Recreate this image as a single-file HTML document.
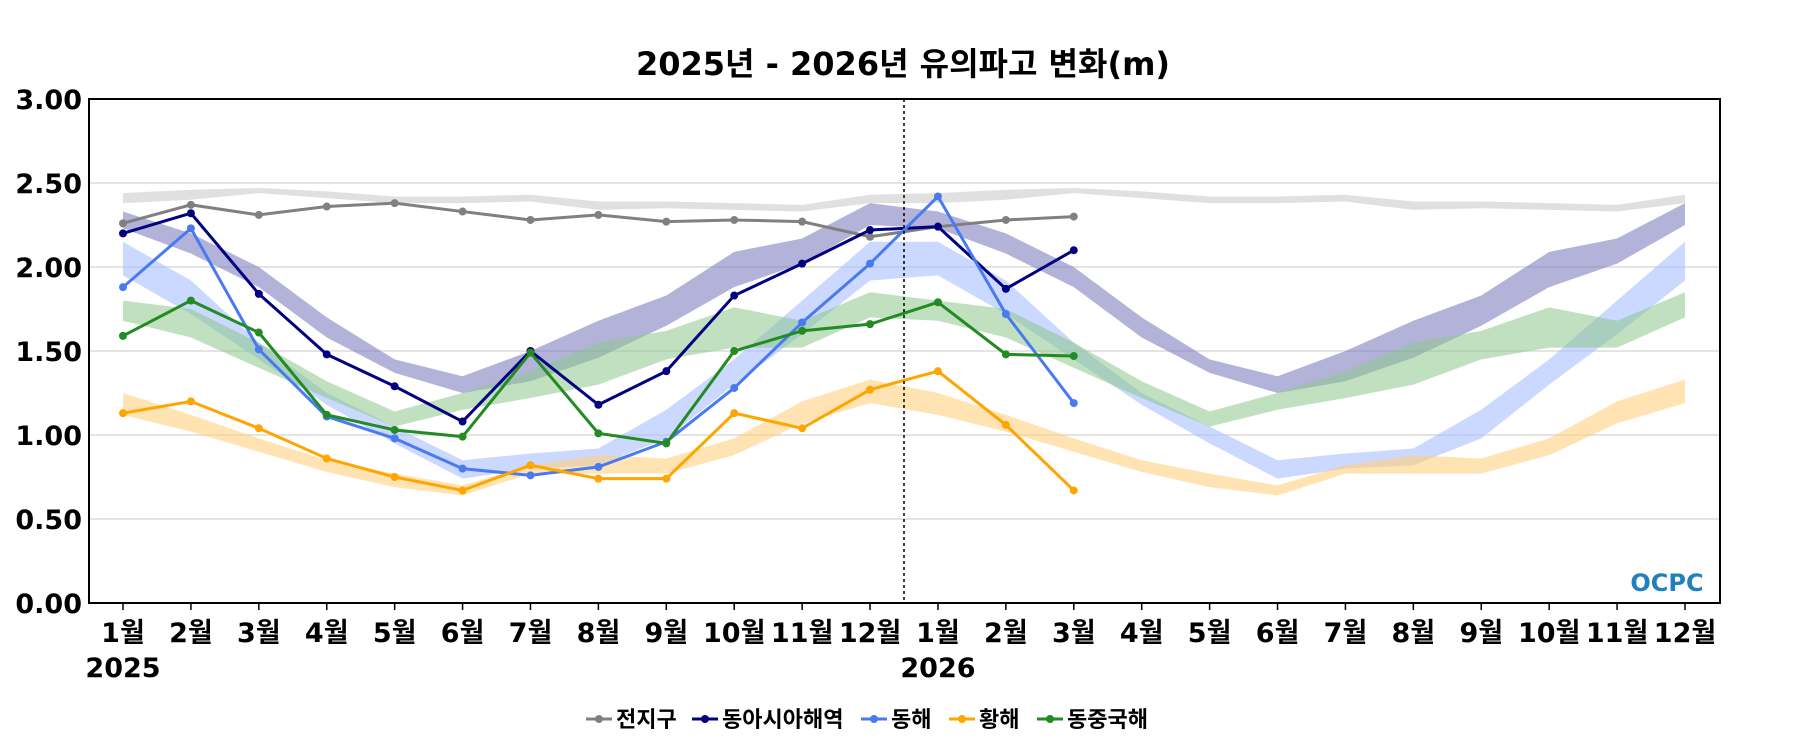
<!DOCTYPE html>
<html><head><meta charset="utf-8"><style>
body{margin:0;background:#fff;}
svg text{font-family:"DejaVu Sans","Noto Sans CJK KR",sans-serif;font-weight:bold;fill:#000;}
</style></head><body>
<svg id="chart" width="1800" height="750" viewBox="0 0 1800 750" xmlns="http://www.w3.org/2000/svg">
<text x="903" y="75" font-size="32" text-anchor="middle">2025년 - 2026년 유의파고 변화(m)</text>
<g id="grid"></g><g id="bands"></g><g id="lines"></g><g id="axes"></g>
<g><text x="1667" y="591" font-size="24" text-anchor="middle" style="fill:#1f7fc0">OCPC</text></g>
<g id="legend"></g>
</svg>
<script>
const monthLabels=["1월","2월","3월","4월","5월","6월","7월","8월","9월","10월","11월","12월","1월","2월","3월","4월","5월","6월","7월","8월","9월","10월","11월","12월"];
const yTicks=[0,0.5,1,1.5,2,2.5,3];
const yTickLabels=["0.00","0.50","1.00","1.50","2.00","2.50","3.00"];
const seriesNames=["전지구","동아시아해역","동해","황해","동중국해"];
const globalVals=[2.26,2.37,2.31,2.36,2.38,2.33,2.28,2.31,2.27,2.28,2.27,2.18,2.24,2.28,2.30];
const eastAsiaVals=[2.20,2.32,1.84,1.48,1.29,1.08,1.50,1.18,1.38,1.83,2.02,2.22,2.24,1.87,2.10];
const eastSeaVals=[1.88,2.23,1.51,1.11,0.98,0.80,0.76,0.81,0.96,1.28,1.67,2.02,2.42,1.72,1.19];
const yellowSeaVals=[1.13,1.20,1.04,0.86,0.75,0.67,0.82,0.74,0.74,1.13,1.04,1.27,1.38,1.06,0.67];
const ecsVals=[1.59,1.80,1.61,1.12,1.03,0.99,1.49,1.01,0.95,1.50,1.62,1.66,1.79,1.48,1.47];
const globalHi=[2.44,2.46,2.47,2.45,2.42,2.42,2.43,2.39,2.39,2.38,2.37,2.43];
const globalLo=[2.38,2.40,2.44,2.41,2.38,2.38,2.39,2.34,2.35,2.34,2.33,2.38];
const eaHi=[2.33,2.20,2.00,1.70,1.45,1.35,1.50,1.68,1.83,2.09,2.17,2.38];
const eaLo=[2.23,2.08,1.88,1.58,1.37,1.25,1.32,1.46,1.65,1.88,2.02,2.25];
const esHi=[2.15,1.92,1.55,1.25,1.05,0.85,0.89,0.92,1.15,1.45,1.80,2.15];
const esLo=[1.95,1.72,1.45,1.18,0.95,0.74,0.80,0.82,0.98,1.30,1.60,1.92];
const ecsHi=[1.80,1.75,1.55,1.32,1.14,1.25,1.38,1.55,1.62,1.76,1.68,1.85];
const ecsLo=[1.68,1.58,1.40,1.22,1.05,1.15,1.22,1.30,1.45,1.52,1.52,1.70];
const ysHi=[1.25,1.12,0.98,0.85,0.77,0.70,0.82,0.88,0.86,0.98,1.20,1.33];
const ysLo=[1.12,1.02,0.90,0.78,0.69,0.64,0.77,0.77,0.77,0.88,1.07,1.19];

const L=89,R=1720,T=99,B=603,X0=123,XN=1685;
const NS="http://www.w3.org/2000/svg";
const xs=i=>X0+i*(XN-X0)/23;
const ys=v=>B-(v/3)*(B-T);
function mk(tag,attrs,parent){const e=document.createElementNS(NS,tag);for(const k in attrs)e.setAttribute(k,attrs[k]);parent.appendChild(e);return e;}
const grid=document.getElementById('grid'),bands=document.getElementById('bands'),lines=document.getElementById('lines'),axes=document.getElementById('axes'),legend=document.getElementById('legend');
yTicks.forEach((v,i)=>{
  if(v>0&&v<3){const g=mk('line',{x1:L,x2:R,y1:ys(v),y2:ys(v),stroke:'#dcdcdc','stroke-width':1.5},grid);
  
  }
  const t=mk('text',{x:L-7,y:ys(v)+10,'font-size':27,'text-anchor':'end'},axes);t.textContent=yTickLabels[i];
  
  
});
const bandDefs=[[globalHi,globalLo,'#d3d3d3',0.7],[eaHi,eaLo,'#8080c0',0.6],[esHi,esLo,'#a8beff',0.6],[ecsHi,ecsLo,'#8cc78c',0.55],[ysHi,ysLo,'#ffd080',0.6]];
bandDefs.forEach(([hi,lo,c,o],k)=>{
  let up=[],dn=[];
  for(let i=0;i<24;i++){up.push(xs(i)+','+ys(hi[i%12]));dn.unshift(xs(i)+','+ys(lo[i%12]));}
  const p=mk('polygon',{points:up.concat(dn).join(' '),fill:c,'fill-opacity':o},bands);
  
  
});
const dv=mk('line',{x1:xs(11.5),x2:xs(11.5),y1:T,y2:B,stroke:'#000','stroke-width':1.5,'stroke-dasharray':'3,3'},axes);


const seriesDefs=[[globalVals,'#808080'],[eastAsiaVals,'#000080'],[eastSeaVals,'#4a7af0'],[yellowSeaVals,'#ffa500'],[ecsVals,'#228b22']];
seriesDefs.forEach(([vals,c],k)=>{
  const pl=mk('polyline',{points:vals.map((v,i)=>xs(i)+','+ys(v)).join(' '),fill:'none',stroke:c,'stroke-width':3},lines);
  
  
  vals.forEach((v,i)=>{const d=mk('circle',{cx:xs(i),cy:ys(v),r:4,fill:c},lines);
    
    });
});
const fr=mk('rect',{x:L,y:T,width:R-L,height:B-T,fill:'none',stroke:'#000','stroke-width':2},axes);


monthLabels.forEach((m,i)=>{
  mk('line',{x1:xs(i),x2:xs(i),y1:B,y2:B+7,stroke:'#000','stroke-width':1.5},axes);
  const t=mk('text',{x:xs(i),y:642,'font-size':27,'text-anchor':'middle'},axes);t.textContent=m;
  
  
});
[[0,'2025'],[12,'2026']].forEach(([i,y])=>{const t=mk('text',{x:xs(i),y:677,'font-size':27,'text-anchor':'middle'},axes);t.textContent=y;
  
  });
const legX=[586,692,861,949,1037];
seriesNames.forEach((n,k)=>{
  const g=mk('g',{},legend);
  
  
  const x=legX[k];
  mk('line',{x1:x,x2:x+26,y1:719,y2:719,stroke:seriesDefs[k][1],'stroke-width':3},g);
  mk('circle',{cx:x+13,cy:719,r:4,fill:seriesDefs[k][1]},g);
  const t=mk('text',{x:x+30,y:727,'font-size':22},g);t.textContent=n;
});
</script>
</body></html>
